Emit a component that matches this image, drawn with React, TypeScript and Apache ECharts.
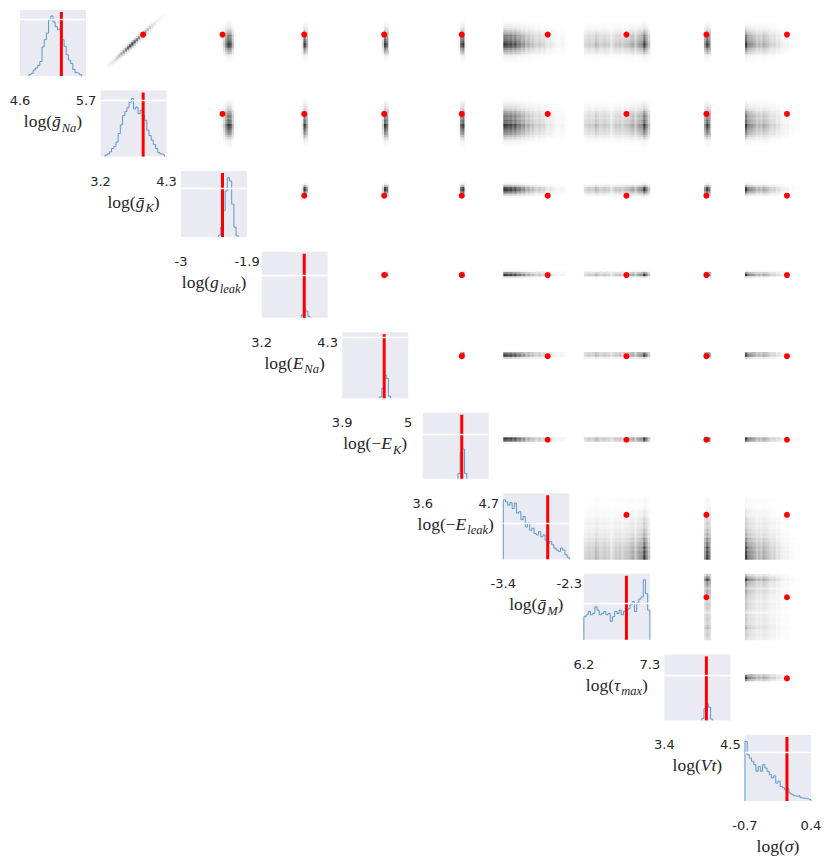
import React, { useEffect, useRef } from "react";
import * as echarts from "echarts";

// ---- data ----
const LOWER = [4.6, 3.2, -3, 3.2, 3.9, 3.6, -3.4, 6.2, 3.4, -0.7];
const UPPER = [5.7, 4.3, -1.9, 4.3, 5, 4.7, -2.3, 7.3, 4.5, 0.4];
const TRUE_VALUES = [5.29, 3.91, -2.31, 3.91, 4.6, 4.25, -2.66, 6.91, 4.1, 0.0];
// white grid line level in each diagonal panel (% of panel height)
const GRID_LEVEL = [86, 86, 74, 65, 92, 68, 54, 55, 69, 74];

// 30-bin marginal histograms (height, % of panel)
const HIST_GNA = [0,0,0,0,2,4,9,12,16,22,44,55,65,85,91,82,75,70,72,55,45,32,24,19,10,5,4,2,0,0];
const HIST_GK = [0,0,2,4,7,12,15,22,35,48,62,68,74,82,88,72,75,65,70,62,55,40,32,25,18,12,6,4,3,0];
const HIST_GLEAK = [0,0,0,0,0,0,0,0,0,0,0,0,0,0,0,0,0,3,15,40,70,90,85,50,15,2,0,0,0,0];
const HIST_ENA = [0,0,0,0,0,0,0,0,0,0,0,0,0,0,0,0,0,0,4,14,10,2,0,0,0,0,0,0,0,0];
const HIST_EK = [0,0,0,0,0,0,0,0,0,0,0,0,0,0,0,0,0,2,15,35,30,3,0,0,0,0,0,0,0,0];
const HIST_ELEAK = [0,0,0,0,0,0,0,0,0,0,0,0,0,0,0,0,8,40,45,8,0,0,0,0,0,0,0,0,0,0];
const HIST_GM = [90,87,82,86,77,85,70,72,60,65,49,55,44,47,39,37,42,34,37,29,24,27,22,17,14,12,17,14,7,3];
const HIST_TAU = [35,38,43,38,40,50,45,38,40,43,38,40,28,35,43,40,45,38,43,45,47,53,58,43,56,62,65,91,70,45];
const HIST_VT = [0,0,0,0,0,0,0,0,0,0,0,0,0,0,0,0,0,3,18,25,20,2,0,0,0,0,0,0,0,0];
const HIST_SIGMA = [90,70,65,60,55,45,52,45,55,50,45,40,35,38,27,30,22,20,17,19,12,10,8,7,8,5,4,4,3,2];
const HISTS = [HIST_GNA, HIST_GK, HIST_GLEAK, HIST_ENA, HIST_EK, HIST_ELEAK, HIST_GM, HIST_TAU, HIST_VT, HIST_SIGMA];

// correlated ridge of the (gNa, gK) joint panel
const RIDGE_GK = [3.328,3.365,3.402,3.438,3.475,3.512,3.548,3.585,3.622,3.658,3.695,3.732,3.768,3.805,3.842,3.878,3.915,3.952,3.988,4.025,4.062,4.098,4.135,4.172,4.208,4.245];
const RIDGE_GNA = [4.766,4.800,4.833,4.867,4.900,4.934,4.968,5.001,5.035,5.068,5.102,5.135,5.169,5.203,5.236,5.270,5.303,5.337,5.370,5.404,5.437,5.471,5.505,5.538,5.572,5.605];
const RIDGE_W = [0.05,0.08,0.12,0.18,0.25,0.35,0.45,0.55,0.65,0.8,0.95,1,0.85,0.7,0.6,0.55,0.5,0.45,0.35,0.28,0.22,0.15,0.1,0.07,0.05,0.03];

// axis labels (rich text parts)
const LABELS = [
  "{n|log(}{i|ḡ}{s|Na}{n|)}",
  "{n|log(}{i|ḡ}{s|K}{n|)}",
  "{n|log(}{i|g}{s|leak}{n|)}",
  "{n|log(}{i|E}{s|Na}{n|)}",
  "{n|log(−}{i|E}{s|K}{n|)}",
  "{n|log(−}{i|E}{s|leak}{n|)}",
  "{n|log(}{i|ḡ}{s|M}{n|)}",
  "{n|log(}{i|τ}{s|max}{n|)}",
  "{n|log(}{i|Vt}{n|)}",
  "{n|log(}{i|σ}{n|)}",
];

const N = 10;
const NB = 30;
const OX = 20, OY = 10, PITCH = 80.55, SIZE = 66;
const TXT = "#262626";
const SERIF = "Liberation Serif";

function shade(v: number, k: number) {
  const g = Math.round(255 * (1 - k * Math.pow(v, 1.7)));
  return `rgb(${g},${g},${g})`;
}

function buildOption() {
  const grid: any[] = [];
  const xAxis: any[] = [];
  const yAxis: any[] = [];
  const series: any[] = [];
  let gi = 0;

  const rich = {
    n: { fontFamily: SERIF, fontSize: 17.5, color: TXT, lineHeight: 22, verticalAlign: "top" },
    i: { fontFamily: SERIF, fontSize: 17.5, fontStyle: "italic", color: TXT, lineHeight: 22, verticalAlign: "top" },
    s: { fontFamily: SERIF, fontSize: 12.5, fontStyle: "italic", color: TXT, lineHeight: 12, padding: [9, 0, 0, 1], verticalAlign: "top" },
  };

  // diagonal panels
  for (let d = 0; d < N; d++) {
    const lo = LOWER[d], hi = UPPER[d];
    const bw = (hi - lo) / NB;
    grid.push({
      left: OX + PITCH * d, top: OY + PITCH * d, width: SIZE, height: SIZE,
      show: true, backgroundColor: "#eaeaf2", borderWidth: 0,
    });
    xAxis.push({
      type: "value", gridIndex: gi, min: lo, max: hi,
      axisLine: { show: false }, axisTick: { show: false }, splitLine: { show: false },
      axisLabel: {
        show: true, customValues: [lo, hi], margin: 18,
        fontFamily: "DejaVu Sans", fontSize: 13, color: TXT,
        formatter: (v: number) => String(v),
      },
      name: LABELS[d], nameLocation: "middle", nameGap: 36,
      nameTextStyle: { rich },
    });
    yAxis.push({ type: "value", gridIndex: gi, min: 0, max: 100, show: false });

    const h = HISTS[d];
    let f = 0; while (f < NB && h[f] === 0) f++;
    let l = NB - 1; while (l >= 0 && h[l] === 0) l--;
    const pts: number[][] = [[lo + f * bw, 0]];
    for (let k = f; k <= l; k++) {
      pts.push([lo + k * bw, h[k]], [lo + (k + 1) * bw, h[k]]);
    }
    pts.push([lo + (l + 1) * bw, 0]);

    series.push({
      type: "line", xAxisIndex: gi, yAxisIndex: gi, data: [], z: 1, silent: true,
      markLine: {
        silent: true, symbol: "none", label: { show: false },
        lineStyle: { color: "#ffffff", width: 1.3, type: "solid" },
        data: [{ yAxis: GRID_LEVEL[d] }],
      },
    });
    series.push({
      type: "line", xAxisIndex: gi, yAxisIndex: gi, data: pts, z: 2,
      showSymbol: false, symbol: "none",
      lineStyle: { color: "#4e8fcc", width: 1, opacity: 0.9 },
    });
    series.push({
      type: "line", xAxisIndex: gi, yAxisIndex: gi, z: 3,
      data: [[TRUE_VALUES[d], 0], [TRUE_VALUES[d], 97]],
      showSymbol: false, symbol: "none",
      lineStyle: { color: "#ff0000", width: 3 },
    });
    gi++;
  }

  // upper panels
  for (let i = 0; i < N; i++) {
    for (let j = i + 1; j < N; j++) {
      const bwx = (UPPER[j] - LOWER[j]) / NB;
      const bwy = (UPPER[i] - LOWER[i]) / NB;
      grid.push({ left: OX + PITCH * j, top: OY + PITCH * i, width: SIZE, height: SIZE });
      xAxis.push({ type: "value", gridIndex: gi, min: LOWER[j], max: UPPER[j], show: false });
      yAxis.push({ type: "value", gridIndex: gi, min: LOWER[i], max: UPPER[i], show: false });

      if (i === 0 && j === 1) {
        const data = RIDGE_GK.map((x, k) => [x, RIDGE_GNA[k], RIDGE_W[k]]);
        series.push({
          type: "custom", xAxisIndex: gi, yAxisIndex: gi, silent: true, z: 1,
          data,
          renderItem: (p: any, api: any) => {
            const x = api.value(0), y = api.value(1), v = api.value(2);
            const a0 = api.coord([x - bwx / 2, y + bwy * 1.8]);
            const a1 = api.coord([x + bwx / 2, y - bwy * 1.8]);
            const b0 = api.coord([x - bwx / 2, y + bwy * 0.7]);
            const b1 = api.coord([x + bwx / 2, y - bwy * 0.7]);
            const g1 = Math.round(255 * (1 - 0.2 * v));
            const g2 = Math.round(255 * (1 - 0.75 * v));
            return {
              type: "group",
              children: [
                { type: "rect", shape: { x: a0[0], y: a0[1], width: a1[0] - a0[0] + 0.4, height: a1[1] - a0[1] }, style: { fill: `rgb(${g1},${g1},${g1})` } },
                { type: "rect", shape: { x: b0[0], y: b0[1], width: b1[0] - b0[0] + 0.4, height: b1[1] - b0[1] }, style: { fill: `rgb(${g2},${g2},${g2})` } },
              ],
            };
          },
        });
      } else {
        const hx = HISTS[j], hy = HISTS[i];
        let mx = 0;
        for (let a = 0; a < NB; a++) for (let b = 0; b < NB; b++) mx = Math.max(mx, hx[a] * hy[b]);
        const data: number[][] = [];
        for (let a = 0; a < NB; a++) {
          for (let b = 0; b < NB; b++) {
            const v = (hx[a] * hy[b]) / mx;
            if (v < 0.06) continue;
            data.push([LOWER[j] + (a + 0.5) * bwx, LOWER[i] + (b + 0.5) * bwy, v]);
          }
        }
        series.push({
          type: "custom", xAxisIndex: gi, yAxisIndex: gi, silent: true, z: 1,
          data,
          renderItem: (p: any, api: any) => {
            const x = api.value(0), y = api.value(1), v = api.value(2);
            const c0 = api.coord([x - bwx / 2, y + bwy / 2]);
            const c1 = api.coord([x + bwx / 2, y - bwy / 2]);
            return {
              type: "rect",
              shape: { x: c0[0], y: c0[1], width: c1[0] - c0[0] + 0.4, height: c1[1] - c0[1] + 0.4 },
              style: { fill: shade(v, 0.8) },
            };
          },
        });
      }
      series.push({
        type: "scatter", xAxisIndex: gi, yAxisIndex: gi, z: 5, silent: true,
        symbolSize: 6, itemStyle: { color: "#ff0000", opacity: 1 },
        data: [[TRUE_VALUES[j], TRUE_VALUES[i]]],
      });
      gi++;
    }
  }

  return { animation: false, backgroundColor: "#ffffff", grid, xAxis, yAxis, series };
}

export default function App() {
  const ref = useRef<HTMLDivElement>(null);
  useEffect(() => {
    document.body.style.margin = "0";
    if (!ref.current) return;
    const chart = echarts.init(ref.current, undefined, { renderer: "svg" });
    chart.setOption(buildOption() as any);
    return () => chart.dispose();
  }, []);
  return <div ref={ref} style={{ width: 831, height: 863 }} />;
}
